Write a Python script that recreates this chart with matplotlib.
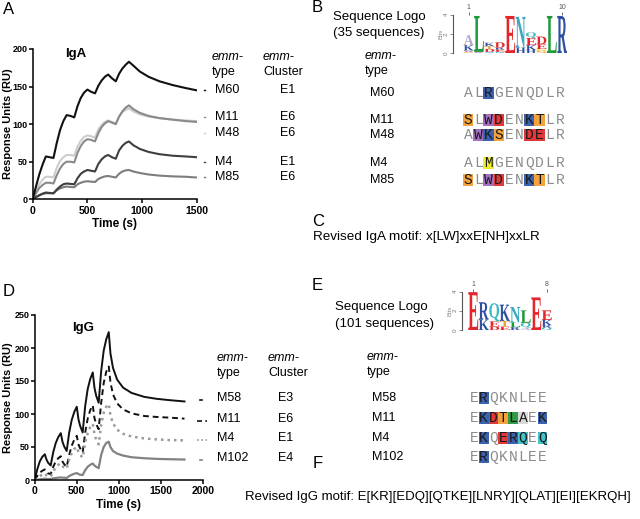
import matplotlib
matplotlib.use("Agg")
import matplotlib.pyplot as plt
from matplotlib.textpath import TextPath
from matplotlib.font_manager import FontProperties
from matplotlib.patches import PathPatch, Rectangle
from matplotlib.transforms import Affine2D

plt.rcParams['font.family'] = ['Liberation Sans', 'DejaVu Sans']

# ---------------- data ----------------
# A: IgA binding sensorgrams (RU vs time)
time_a = [0, 30, 60, 90, 120, 155,
          190, 220, 250, 280, 310, 345,
          380, 410, 440, 470, 500, 535,
          570, 600, 630, 660, 690, 725,
          760, 790, 820, 850, 880,
          920, 980, 1060, 1160, 1280, 1400, 1500]
iga_m60 = [0, 17, 33, 46, 57, 56,
           55, 75, 92, 104, 112, 111,
           109, 124, 135, 142, 146, 143,
           141, 151, 158, 163, 166, 161,
           157, 167, 174, 179, 183,
           178, 170, 163, 157, 152, 148, 145]
iga_m11 = [0, 8, 15, 19, 22, 22,
           21, 32, 41, 47, 50, 50,
           49, 62, 71, 77, 80, 79,
           77, 88, 96, 101, 104, 102,
           100, 110, 117, 122, 125,
           120, 115, 111, 108, 106, 104, 103]
iga_m48 = [0, 11, 20, 26, 30, 30,
           29, 42, 51, 56, 59, 59,
           58, 70, 78, 83, 85, 84,
           82, 93, 99, 103, 105, 103,
           101, 110, 116, 119, 121,
           117, 113, 110, 108, 106, 105, 104]
iga_m4 = [0, 3, 5.5, 7.5, 9, 8.5,
          8, 13, 17, 20, 21, 20.5,
          20, 28, 34, 37, 39, 38,
          37, 47, 53, 57, 59, 56,
          54, 65, 71, 75, 77,
          72, 67, 63, 60, 58, 57, 56]
iga_m85 = [0, 3, 5, 7, 8, 8,
           8, 12, 14.5, 16, 17, 16.5,
           16, 20, 22, 23.5, 24, 23.5,
           23, 27, 29, 30.5, 31, 30,
           29, 34, 37, 38.5, 39,
           37, 35, 33, 31.5, 30.5, 30, 29]
iga_types = ['M60', 'M11', 'M48', 'M4', 'M85']
iga_clusters = ['E1', 'E6', 'E6', 'E1', 'E6']

# D: IgG binding sensorgrams
time_d = [0, 30, 60, 90, 120, 140, 160,
          190, 220, 250, 280, 310, 330, 350,
          380, 410, 440, 470, 500, 520, 540,
          570, 600, 630, 660, 690, 710, 730,
          760, 790, 820, 850, 880,
          900, 930, 980, 1050, 1150, 1300, 1450, 1600, 1780]
igg_m58 = [0, 16, 28, 35, 39, 31, 26,
           22, 42, 56, 65, 71, 58, 51,
           44, 72, 91, 103, 111, 92, 82,
           72, 112, 138, 153, 163, 140, 128,
           117, 165, 196, 213, 224,
           192, 170, 152, 140, 132, 126, 123, 121, 119]
igg_m11 = [0, 6, 11, 14, 16, 12, 10,
           9, 20, 28, 33, 36, 28, 24,
           20, 38, 52, 61, 67, 54, 48,
           42, 72, 93, 106, 113, 94, 85,
           77, 117, 147, 164, 172,
           148, 130, 116, 107, 101, 97, 95.5, 94.5, 93]
igg_m4 = [0, 3, 6, 8, 10, 7, 6,
          5, 13, 19, 23, 25, 21, 19,
          17, 31, 41, 47, 50, 42, 38,
          34, 57, 71, 80, 85, 70, 61,
          54, 84, 102, 111, 115,
          98, 86, 76, 70, 66, 63, 61.5, 60.5, 60]
igg_m102 = [0, 0.5, 1, 1.5, 2, 1.5, 1.5,
            1.5, 2.5, 3, 3.5, 4, 3.5, 3.5,
            3, 6, 8, 9.5, 10.5, 9, 8,
            7.5, 15, 20, 23, 25, 22, 20,
            18, 38, 50, 56, 58,
            50, 44, 40, 37, 34.5, 33, 32, 31.5, 31]
igg_types = ['M58', 'M11', 'M4', 'M102']
igg_clusters = ['E3', 'E6', 'E1', 'E4']

# B: IgA-binding sequences, highlight codes per residue ('.' = none)
seq_b = ['ALRGENQDLR', 'SLWDENKTLR', 'AWKSENDELR', 'ALMGENQDLR', 'SLWDENKTLR']
mark_b = ['..B.......', 'O.PR..BO..', '.PBO..RR..', '..Y.......', 'O.PR..BO..']
# E: IgG-binding sequences
seq_e = ['ERQKNLEE', 'EKDTLAEK', 'EKQERQEQ', 'ERQKNLEE']
mark_e = ['.B......', '.BROGL.B', '.B.RBC.C', '.B......']

# sequence logos: letters bottom->top per column, heights in bits
logo_a_letters = ['SWKA', 'WL', 'NDTK', 'NERD', 'E', 'HN', 'HKEQ', 'SGED', 'L', 'R']
logo_a_heights = [[0.15, 0.15, 0.55, 1.05], [0.15, 3.75], [0.15, 0.3, 0.3, 0.35],
                  [0.15, 0.25, 0.2, 0.55], [3.9], [0.6, 3.2], [0.35, 0.5, 0.75, 0.6],
                  [0.25, 0.2, 0.5, 0.8], [3.9], [3.9]]
logo_e_letters = ['E', 'KR', 'DEQ', 'ETK', 'RLN', 'AQL', 'E', 'QRKE']
logo_e_heights = [[3.95], [1.1, 1.8], [0.35, 0.55, 1.9], [0.35, 0.6, 1.7],
                  [0.3, 0.5, 1.6], [0.25, 0.5, 1.3], [3.4], [0.25, 0.25, 0.55, 1.0]]

# ---------------- styles ----------------
W, H = 640, 519
box_colors = {'B': '#3d62ad', 'O': '#f3a23e', 'P': '#a56fc1', 'R': '#e1393a',
              'Y': '#eded2a', 'G': '#2f9c46', 'C': '#46c2cb', 'L': '#dadada'}
logo_colors = {'E': '#e2262b', 'D': '#e2262b', 'K': '#2f4f9f', 'R': '#2f4f9f',
               'H': '#2f4f9f', 'L': '#1f9a3a', 'N': '#3aa8c0', 'Q': '#3fb8c0',
               'A': '#b4aacb', 'W': '#9b5fb8', 'S': '#f0a030', 'T': '#f0a030',
               'G': '#e0c020'}

fig = plt.figure(figsize=(6.4, 5.19), dpi=100)


def px_axes(left, top, right, bottom):
    return fig.add_axes([left / W, 1 - bottom / H, (right - left) / W, (bottom - top) / H])


def style_axes(ax, left_px):
    for s in ['top', 'right']:
        ax.spines[s].set_visible(False)
    for s in ['left', 'bottom']:
        ax.spines[s].set_linewidth(1.1)
    ax.tick_params(direction='out', length=3, width=1.1)
    ax.tick_params(axis='x', labelsize=7.5, pad=1.5)
    ax.tick_params(axis='y', labelsize=6.5, pad=0.5)
    for lab in ax.get_xticklabels() + ax.get_yticklabels():
        lab.set_fontweight('bold')
    ax.set_xlabel('Time (s)', fontweight='bold', fontsize=8.5, labelpad=2,
                  family=['Liberation Sans Narrow', 'Liberation Sans'])
    ax.set_ylabel('Response Units (RU)', fontweight='bold', fontsize=8)
    width_px = ax.get_position().width * W
    ax.yaxis.set_label_coords((13 - left_px) / width_px, 0.5)


# ---- A
axA = px_axes(32.7, 49, 196.7, 199.3)
for vals, col in zip([iga_m48, iga_m11, iga_m85, iga_m4, iga_m60],
                     ['#cdcdcd', '#8a8a8a', '#7d7d7d', '#3f3f3f', '#111111']):
    axA.plot(time_a, vals, color=col, lw=1.5)
axA.set_xlim(0, 1500)
axA.set_ylim(0, 200)
axA.set_xticks([0, 500, 1000, 1500])
axA.set_yticks([0, 50, 100, 150, 200])
style_axes(axA, 32.7)
axA.text(0.26, 0.97, 'IgA', transform=axA.transAxes, ha='center', va='center',
         fontweight='bold', fontsize=9.5)

# ---- D
axD = px_axes(34.7, 315, 203, 480)
axD.plot(time_d, igg_m58, color='#111111', lw=1.4)
axD.plot(time_d, igg_m11, color='#111111', lw=1.4, dashes=(3, 2))
axD.plot(time_d, igg_m4, color='#9a9a9a', lw=1.8, dashes=(1, 1.6))
axD.plot(time_d, igg_m102, color='#828282', lw=1.6)
axD.set_xlim(0, 2000)
axD.set_ylim(0, 250)
axD.set_xticks([0, 500, 1000, 1500, 2000])
axD.set_yticks([0, 50, 100, 150, 200, 250])
style_axes(axD, 34.7)
axD.text(0.29, 0.92, 'IgG', transform=axD.transAxes, ha='center', va='center',
         fontweight='bold', fontsize=9.5)

# ---- overlay in pixel units for annotations
ov = fig.add_axes([0, 0, 1, 1])
ov.set_xlim(0, W)
ov.set_ylim(H, 0)
ov.axis('off')

fs = 9
for lab, x, y in [('A', 3, 9), ('B', 312, 8), ('C', 312, 221), ('D', 3, 291),
                  ('E', 312, 285), ('F', 313, 463)]:
    ov.text(x, y, lab, fontsize=12, va='center', ha='left')

# A side table
ov.text(212, 57, 'emm-', style='italic', fontsize=fs, va='center')
ov.text(212, 72, 'type', fontsize=fs, va='center')
ov.text(263, 57, 'emm-', style='italic', fontsize=fs, va='center')
ov.text(263, 72, 'Cluster', fontsize=fs, va='center')
rows_a = [90, 117, 133, 162, 177]
for y, t, c, col in zip(rows_a, iga_types, iga_clusters,
                        ['#111111', '#8a8a8a', '#cdcdcd', '#3f3f3f', '#7d7d7d']):
    ov.plot([203.5, 205], [y, y], color=col, lw=1.0)
    ov.text(215, y, t, fontsize=fs, va='center')
    ov.text(280, y, c, fontsize=fs, va='center')

# D side table
ov.text(217, 358, 'emm-', style='italic', fontsize=fs, va='center')
ov.text(217, 373, 'type', fontsize=fs, va='center')
ov.text(268, 358, 'emm-', style='italic', fontsize=fs, va='center')
ov.text(268, 373, 'Cluster', fontsize=fs, va='center')
rows_d = [398, 419, 438, 458]
keys_d = [('#111111', None, 200, 201.5), ('#111111', (3, 2), 197, 207),
          ('#9a9a9a', (1, 1.6), 197, 207), ('#828282', None, 200, 201.5)]
for y, t, c, (col, dsh, x0, x1) in zip(rows_d, igg_types, igg_clusters, keys_d):
    ln, = ov.plot([x0, x1], [y + 2, y + 2], color=col, lw=1.2)
    if dsh:
        ln.set_dashes(dsh)
    ov.text(217, y, t, fontsize=fs, va='center')
    ov.text(278, y, c, fontsize=fs, va='center')

# B / E text
ov.text(333, 17, 'Sequence Logo', fontsize=9.5, va='center')
ov.text(333, 33, '(35 sequences)', fontsize=9.5, va='center')
ov.text(365, 56, 'emm-', style='italic', fontsize=fs, va='center')
ov.text(365, 71, 'type', fontsize=fs, va='center')
ov.text(335, 307, 'Sequence Logo', fontsize=9.5, va='center')
ov.text(335, 324, '(101 sequences)', fontsize=9.5, va='center')
ov.text(367, 357, 'emm-', style='italic', fontsize=fs, va='center')
ov.text(367, 372, 'type', fontsize=fs, va='center')

rows_b = [93, 120, 135, 163, 180]
rows_e = [398, 418, 438, 457]
for y, t in zip(rows_b, iga_types):
    ov.text(370, y, t, fontsize=fs, va='center')
for y, t in zip(rows_e, igg_types):
    ov.text(372, y, t, fontsize=fs, va='center')


def draw_alignment(x0, pitch, rows, seqs, marks, box_h):
    for y, seq, mk in zip(rows, seqs, marks):
        for j, (ch, m) in enumerate(zip(seq, mk)):
            cx = x0 + j * pitch + pitch / 2
            tc = '#8c8c8c'
            if m != '.':
                ov.add_patch(Rectangle((cx - pitch / 2, y - box_h / 2), pitch, box_h,
                                       fc=box_colors[m], ec='none'))
                tc = '#1a1a1a'
            ov.text(cx, y + 4, ch, ha='center', va='baseline', fontsize=10.5,
                    family='Liberation Mono', color=tc)


draw_alignment(463, 10.2, rows_b, seq_b, mark_b, 12)
draw_alignment(469, 9.8, rows_e, seq_e, mark_e, 11.5)

ov.text(313, 237, 'Revised IgA motif: x[LW]xxE[NH]xxLR', fontsize=9.7, va='center')
ov.text(245, 497, 'Revised IgG motif: E[KR][EDQ][QTKE][LNRY][QLAT][EI][EKRQH]',
        fontsize=9.5, va='center')

# ---- sequence logos
logo_font = FontProperties(family='Liberation Serif', weight='bold')


def draw_logo(ax, letters, heights, top_labels):
    for i, (lets, hts) in enumerate(zip(letters, heights), start=1):
        base = 0.0
        for ch, h in zip(lets, hts):
            tp = TextPath((0, 0), ch, size=1, prop=logo_font)
            bb = tp.get_extents()
            tr = (Affine2D().translate(-bb.x0, -bb.y0)
                  .scale(0.95 / bb.width, h / bb.height)
                  .translate(i - 0.475, base))
            ax.add_patch(PathPatch(tr.transform_path(tp), fc=logo_colors[ch], ec='none'))
            base += h
    ax.set_ylim(0, 4)
    for s in ['right', 'bottom', 'top']:
        ax.spines[s].set_visible(False)
    ax.spines['left'].set_linewidth(0.8)
    ax.spines['left'].set_color('#555555')
    ax.patch.set_visible(False)
    ax.set_yticks([0, 2, 4])
    ax.tick_params(axis='y', length=2, width=0.6, labelsize=4.5, pad=1,
                   colors='#777777', labelrotation=90)
    ax.set_ylabel('Bits', fontsize=4.5, color='#888888', labelpad=0)
    ax.xaxis.set_ticks_position('top')
    ax.set_xticks(top_labels)
    ax.set_xticklabels([str(v) for v in top_labels])
    ax.tick_params(axis='x', length=2, width=0.6, labelsize=5, pad=1, colors='#555555')


logoA = px_axes(453, 15, 567.4, 53.3)
logoA.set_xlim(-0.5, 10.5)
draw_logo(logoA, logo_a_letters, logo_a_heights, [1, 10])

logoE = px_axes(461.7, 291.7, 552, 330)
logoE.set_xlim(-0.1, 8.5)
draw_logo(logoE, logo_e_letters, logo_e_heights, [1, 8])

fig.savefig('out.png', dpi=100)
